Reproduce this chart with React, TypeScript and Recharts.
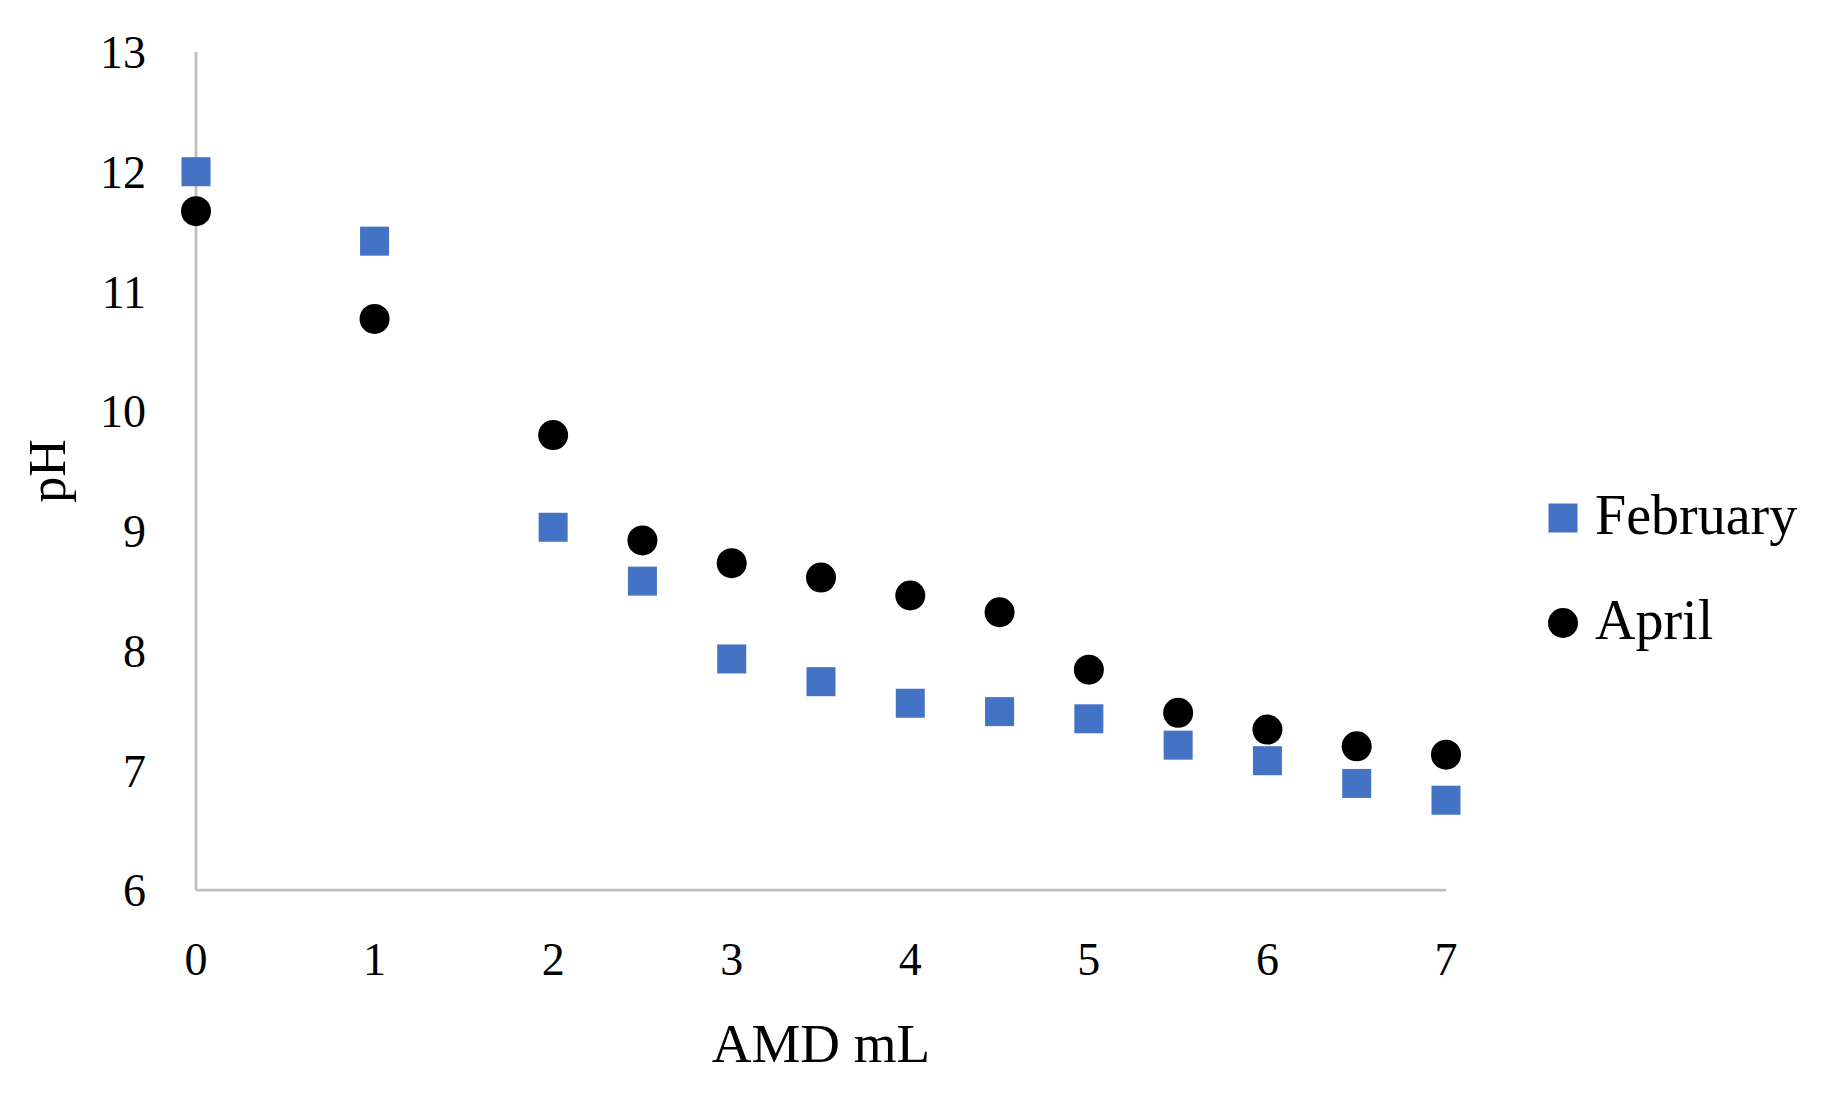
import React from 'react';
import { ScatterChart, Scatter, XAxis, YAxis, Legend, Label } from 'recharts';

const amdML = [0, 1, 2, 2.5, 3, 3.5, 4, 4.5, 5, 5.5, 6, 6.5, 7];
const februaryPH = [12.0, 11.42, 9.03, 8.58, 7.93, 7.74, 7.56, 7.49, 7.43, 7.21, 7.08, 6.89, 6.75];
const aprilPH = [11.67, 10.77, 9.8, 8.92, 8.73, 8.61, 8.46, 8.32, 7.84, 7.48, 7.34, 7.2, 7.13];
const xTicks = [0, 1, 2, 3, 4, 5, 6, 7];
const yTicks = [6, 7, 8, 9, 10, 11, 12, 13];
const seriesNames = ['February', 'April'];

const febData = amdML.map((x, i) => ({ x, y: februaryPH[i] }));
const aprData = amdML.map((x, i) => ({ x, y: aprilPH[i] }));

const FONT = "'Liberation Serif', 'Times New Roman', serif";
const BLUE = '#4472C4';
const AXIS = '#BFBFBF';

const SquareShape = (p: any) => (
  <rect x={p.cx - 14.5} y={p.cy - 14.5} width={29} height={29} fill={BLUE} />
);
const CircleShape = (p: any) => <circle cx={p.cx} cy={p.cy} r={15} fill="#000" />;

const LegendContent = () => (
  <svg width={292} height={200} style={{ display: 'block' }}>
    <rect x={23 - 14.5} y={48 - 14.5} width={29} height={29} fill={BLUE} />
    <text x={55} y={64} fontFamily={FONT} fontSize={56} fill="#000">
      {seriesNames[0]}
    </text>
    <circle cx={23} cy={153} r={15} fill="#000" />
    <text x={55} y={169} fontFamily={FONT} fontSize={56} fill="#000">
      {seriesNames[1]}
    </text>
  </svg>
);

const XTitle = (props: any) => {
  const vb = props.viewBox || {};
  return (
    <text x={vb.x + vb.width / 2} y={vb.y + 172} textAnchor="middle" fontFamily={FONT} fontSize={55} fill="#000">
      AMD mL
    </text>
  );
};

const YTitle = (props: any) => {
  const vb = props.viewBox || {};
  const x = vb.x + 29;
  const y = vb.y + vb.height / 2;
  return (
    <text x={x} y={y} transform={`rotate(-90, ${x}, ${y})`} textAnchor="middle" fontFamily={FONT} fontSize={52} fill="#000">
      pH
    </text>
  );
};

export default function App() {
  return (
    <div style={{ position: 'absolute', left: 0, top: 0, width: 1832, height: 1100, background: '#fff' }}>
      <ScatterChart width={1832} height={1100} margin={{ top: 52, right: 94, bottom: 30, left: 36 }}>
        <XAxis
          type="number"
          dataKey="x"
          domain={[0, 7]}
          ticks={xTicks}
          height={180}
          tickSize={0}
          tickMargin={52}
          tickLine={false}
          axisLine={{ stroke: AXIS, strokeWidth: 2.75 }}
          tick={{ fontFamily: FONT, fontSize: 46, fill: '#000' }}
        >
          <Label content={XTitle} />
        </XAxis>
        <YAxis
          type="number"
          dataKey="y"
          domain={[6, 13]}
          ticks={yTicks}
          width={160}
          tickSize={0}
          tickMargin={50}
          tickLine={false}
          axisLine={{ stroke: AXIS, strokeWidth: 2.75 }}
          tick={{ fontFamily: FONT, fontSize: 46, fill: '#000' }}
        >
          <Label content={YTitle} />
        </YAxis>
        <Legend
          layout="horizontal"
          verticalAlign="middle"
          align="right"
          content={LegendContent}
          wrapperStyle={{ left: 1540, top: 470, width: 292, height: 200 }}
        />
        <Scatter name={seriesNames[0]} data={febData} shape={SquareShape} fill={BLUE} isAnimationActive={false} />
        <Scatter name={seriesNames[1]} data={aprData} shape={CircleShape} fill="#000" isAnimationActive={false} />
      </ScatterChart>
    </div>
  );
}
